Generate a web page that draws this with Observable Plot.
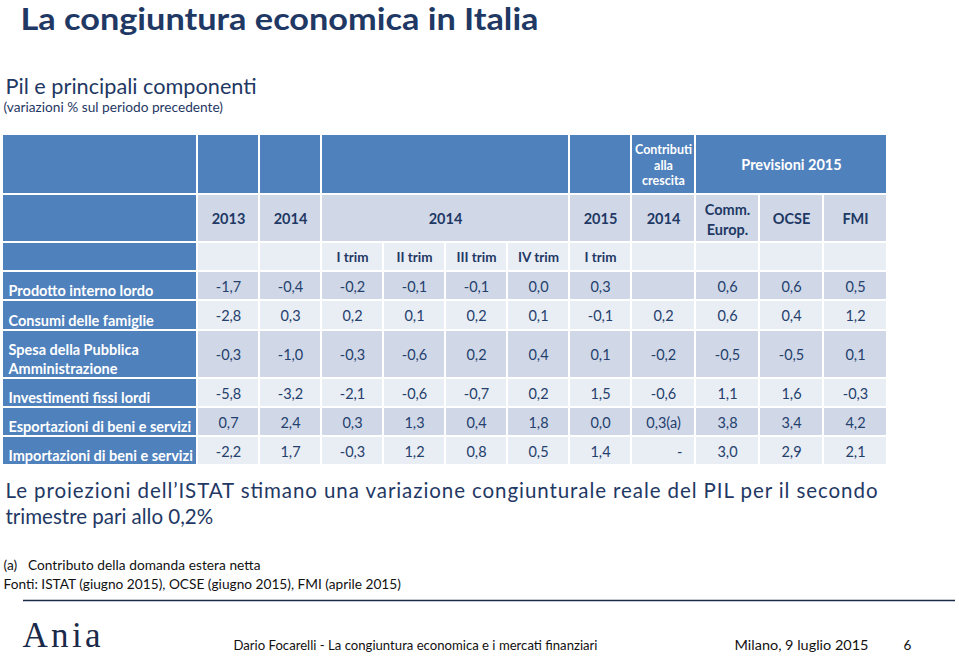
<!DOCTYPE html>
<html>
<head>
<meta charset="utf-8">
<script src="https://cdn.jsdelivr.net/npm/d3@7"></script>
<script src="https://cdn.jsdelivr.net/npm/@observablehq/plot@0.6"></script>
<style>
  html, body { margin: 0; padding: 0; background: #fff; }
  #chart svg { display: block; }
</style>
</head>
<body>
<div id="chart"></div>
<script>
// ---------------- DATA ----------------
const rowLabels = [
  "Prodotto interno lordo",
  "Consumi delle famiglie",
  "Spesa della Pubblica\nAmministrazione",
  "Investimenti fissi lordi",
  "Esportazioni di beni e servizi",
  "Importazioni di beni e servizi"
];
// columns: 2013, 2014, 2014 I-IV trim, 2015 I trim, Contributi 2014, Comm. Europ., OCSE, FMI
const pil          = [-1.7, -0.4, -0.2, -0.1, -0.1, 0.0, 0.3, null, 0.6, 0.6, 0.5];
const consumi      = [-2.8,  0.3,  0.2,  0.1,  0.2, 0.1, -0.1, 0.2, 0.6, 0.4, 1.2];
const spesaPA      = [-0.3, -1.0, -0.3, -0.6,  0.2, 0.4, 0.1, -0.2, -0.5, -0.5, 0.1];
const investimenti = [-5.8, -3.2, -2.1, -0.6, -0.7, 0.2, 1.5, -0.6, 1.1, 1.6, -0.3];
const esportazioni = [ 0.7,  2.4,  0.3,  1.3,  0.4, 1.8, 0.0, 0.3, 3.8, 3.4, 4.2];
const importazioni = [-2.2,  1.7, -0.3,  1.2,  0.8, 0.5, 1.4, "-", 3.0, 2.9, 2.1];
const series = [pil, consumi, spesaPA, investimenti, esportazioni, importazioni];
const noteMarks = [{row: 4, col: 7, mark: "(a)"}];

const headerTop = [
  {c0: 0, c1: 0, text: ""}, {c0: 1, c1: 1, text: ""}, {c0: 2, c1: 2, text: ""},
  {c0: 3, c1: 6, text: ""}, {c0: 7, c1: 7, text: ""},
  {c0: 8, c1: 8, text: "Contributi\nalla\ncrescita"},
  {c0: 9, c1: 11, text: "Previsioni 2015"}
];
const headerYears = [
  {c0: 1, c1: 1, text: "2013"}, {c0: 2, c1: 2, text: "2014"}, {c0: 3, c1: 6, text: "2014"},
  {c0: 7, c1: 7, text: "2015"}, {c0: 8, c1: 8, text: "2014"},
  {c0: 9, c1: 9, text: "Comm.\nEurop."}, {c0: 10, c1: 10, text: "OCSE"}, {c0: 11, c1: 11, text: "FMI"}
];
const headerQuarters = ["", "", "I trim", "II trim", "III trim", "IV trim", "I trim", "", "", "", ""];

const title = "La congiuntura economica in Italia";
const subtitle = "Pil e principali componenti";
const unitNote = "(variazioni % sul periodo precedente)";
const commentLines = [
  "Le proiezioni dell\u2019ISTAT stimano una variazione congiunturale reale del PIL per il secondo",
  "trimestre pari allo 0,2%"
];
const footnotes = ["(a)   Contributo della domanda estera netta",
  "Fonti: ISTAT (giugno 2015), OCSE (giugno 2015), FMI (aprile 2015)"];
const footerAuthor = "Dario Focarelli - La congiuntura economica e i mercati finanziari";
const footerPlace = "Milano, 9 luglio 2015";
const pageNumber = "6";
const logo = "Ania";

// ---------------- LAYOUT ----------------
const W = 959, H = 656;
const tableLeft = 3, tableTop = 135, gap = 2;
const colWidths = [193, 60, 60, 60, 60, 60, 60, 60, 62, 62, 62, 62];
const rowHeights = [58, 46, 27, 27, 28, 46, 27, 27, 27];
const colX = []; { let x = tableLeft; for (const w of colWidths) { colX.push(x); x += w + gap; } }
const rowY = []; { let y = tableTop; for (const h of rowHeights) { rowY.push(y); y += h + gap; } }
const cx0 = c => colX[c], cx1 = c => colX[c] + colWidths[c];
const ry0 = r => rowY[r], ry1 = r => rowY[r] + rowHeights[r];

const DARK = "#4F81BD", LIGHT = "#D0D8E8", LIGHTER = "#E9EDF4";
const NAVY = "#1F3864", TXT = "#24406C";

const fmt = v => v == null ? "" : (typeof v === "string" ? v : v.toFixed(1).replace(".", ","));

// cells
const headCells = [];
headerTop.forEach(h => headCells.push({x1: cx0(h.c0), x2: cx1(h.c1), y1: ry0(0), y2: ry1(0), fill: DARK, text: h.text, color: "#fff", size: h.text.includes("\n") ? 12.5 : 14.5}));
headCells.push({x1: cx0(0), x2: cx1(0), y1: ry0(1), y2: ry1(1), fill: DARK, text: "", color: "#fff"});
headerYears.forEach(h => headCells.push({x1: cx0(h.c0), x2: cx1(h.c1), y1: ry0(1), y2: ry1(1), fill: LIGHT, text: h.text, color: NAVY, size: 14.5}));
headCells.push({x1: cx0(0), x2: cx1(0), y1: ry0(2), y2: ry1(2), fill: DARK, text: "", color: "#fff"});
headerQuarters.forEach((t, i) => headCells.push({x1: cx0(i + 1), x2: cx1(i + 1), y1: ry0(2), y2: ry1(2), fill: LIGHTER, text: t, color: NAVY, size: 13.5}));

const dataCells = [];
const labelCells = [];
series.forEach((vals, r) => {
  const R = r + 3;
  labelCells.push({x1: cx0(0), x2: cx1(0), y1: ry0(R), y2: ry1(R), text: rowLabels[r]});
  vals.forEach((v, c) => {
    const note = noteMarks.find(n => n.row === r && n.col === c);
    dataCells.push({
      x1: cx0(c + 1), x2: cx1(c + 1), y1: ry0(R), y2: ry1(R),
      fill: r % 2 === 0 ? LIGHT : LIGHTER,
      text: fmt(v) + (note ? note.mark : ""),
      dash: v === "-"
    });
  });
});

const headText = (filter, lh) => Plot.text(headCells.filter(d => d.text && filter(d)), {
  x: d => (d.x1 + d.x2) / 2, y: d => (d.y1 + d.y2) / 2, text: "text",
  fill: "color", fontSize: d => d.size, fontWeight: "bold", lineHeight: lh
});

const chart = Plot.plot({
  width: W, height: H, margin: 0,
  x: {domain: [0, W], range: [0, W], axis: null},
  y: {domain: [0, H], range: [0, H], axis: null},
  style: {fontFamily: "Lato, 'Open Sans', sans-serif", background: "#fff"},
  marks: [
    // title block
    Plot.text([title], {x: 20, y: 29, text: d => d, textAnchor: "start", lineAnchor: "bottom", fontSize: 31, fontWeight: "bold", fill: NAVY, className: "title"}),
    Plot.text([subtitle], {x: 5, y: 93, text: d => d, textAnchor: "start", lineAnchor: "bottom", fontSize: 21.7, fill: NAVY}),
    Plot.text([unitNote], {x: 3, y: 111, text: d => d, textAnchor: "start", lineAnchor: "bottom", fontSize: 13.7, fill: NAVY}),
    // table cells
    Plot.rect(headCells, {x1: "x1", x2: "x2", y1: "y1", y2: "y2", fill: "fill"}),
    Plot.rect(labelCells, {x1: "x1", x2: "x2", y1: "y1", y2: "y2", fill: DARK}),
    Plot.rect(dataCells, {x1: "x1", x2: "x2", y1: "y1", y2: "y2", fill: "fill"}),
    headText(d => d.text.startsWith("Contributi"), 1.25),
    headText(d => d.text.startsWith("Comm"), 1.35),
    headText(d => !d.text.includes("\n"), 1.2),
    Plot.text(labelCells, {
      x: d => d.x1 + 5, y: d => d.y2 - 4, text: "text", textAnchor: "start", lineAnchor: "bottom",
      fill: "#fff", fontSize: 14.5, fontWeight: "bold", lineHeight: 1.25
    }),
    Plot.text(dataCells.filter(d => d.text && !d.dash), {
      x: d => (d.x1 + d.x2) / 2, y: d => (d.y1 + d.y2) / 2 + 1, text: "text",
      fill: TXT, fontSize: 14.5
    }),
    Plot.text(dataCells.filter(d => d.dash), {
      x: d => d.x2 - 12, y: d => (d.y1 + d.y2) / 2 + 1, text: "text", textAnchor: "end",
      fill: TXT, fontSize: 14.5
    }),
    // comment
    Plot.text(commentLines, {x: 5, y: (d, i) => 497 + i * 26, text: d => d, textAnchor: "start", lineAnchor: "bottom",
      fontSize: 20.5, fill: NAVY, className: "comment"}),
    Plot.text(footnotes, {x: 3, y: (d, i) => 569 + i * 19, text: d => d, textAnchor: "start", lineAnchor: "bottom",
      fontSize: 13.7, fill: "#111", className: "foot"}),
    // footer
    Plot.ruleY([600], {x1: 23, x2: 955, stroke: "#1B2A4A", strokeWidth: 1.6}),
    Plot.text([logo], {x: 22, y: 646, text: d => d, textAnchor: "start", lineAnchor: "bottom",
      fontSize: 35, fontFamily: "'Liberation Serif', 'DejaVu Serif', serif", fill: "#1B2A4A", className: "logo"}),
    Plot.text([footerAuthor], {x: 233, y: 649, text: d => d, textAnchor: "start", lineAnchor: "bottom", fontSize: 13.5, fill: "#111", className: "fauthor"}),
    Plot.text([footerPlace], {x: 734, y: 649, text: d => d, textAnchor: "start", lineAnchor: "bottom", fontSize: 13.5, fill: "#111", className: "fplace"}),
    Plot.text([pageNumber], {x: 903, y: 649, text: d => d, textAnchor: "start", lineAnchor: "bottom", fontSize: 13.5, fill: "#111"})
  ]
});

// justify / fit a few lines to the slide's measured widths
const s = d3.select(chart);
s.select("g.title text").attr("textLength", 518).attr("lengthAdjust", "spacingAndGlyphs");
s.select("g.comment text").attr("textLength", 872).attr("lengthAdjust", "spacing");
s.selectAll("g.foot text").filter((d, i) => i === 0).attr("textLength", 257).attr("lengthAdjust", "spacing");
s.select("g.fauthor text").attr("textLength", 364).attr("lengthAdjust", "spacingAndGlyphs");
s.select("g.fplace text").attr("textLength", 134).attr("lengthAdjust", "spacingAndGlyphs");
s.select("g.logo text").attr("textLength", 78).attr("lengthAdjust", "spacing");

document.getElementById("chart").appendChild(chart);
</script>
</body>
</html>
